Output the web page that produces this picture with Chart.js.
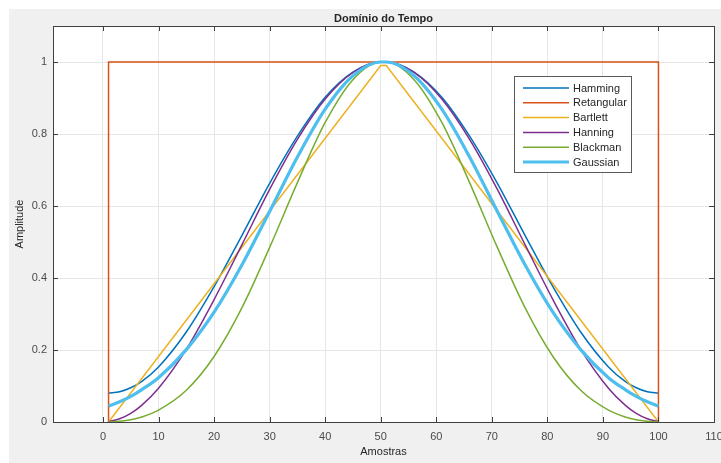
<!DOCTYPE html>
<html>
<head>
<meta charset="utf-8">
<title>Domínio do Tempo</title>
<script src="https://cdn.jsdelivr.net/npm/chart.js@4/dist/chart.umd.min.js"></script>
<style>
  html, body { margin: 0; padding: 0; background: #ffffff; }
  canvas { display: block; }
</style>
</head>
<body>
<canvas id="windowChart" width="721" height="463"></canvas>
<script>
// sample positions (1..100) used for the smooth windows
const samples = [1, 3, 5, 7, 10, 15, 20, 25, 30, 35, 40, 45, 50,
                 51, 56, 61, 66, 71, 76, 81, 86, 91, 94, 96, 98, 100];

const hamming  = [0.080, 0.084, 0.095, 0.113, 0.153, 0.250, 0.376, 0.518, 0.663, 0.794, 0.902, 0.972, 1.000,
                  1.000, 0.972, 0.902, 0.794, 0.663, 0.518, 0.376, 0.250, 0.153, 0.113, 0.095, 0.084, 0.080];
const hanning  = [0.001, 0.009, 0.024, 0.047, 0.094, 0.202, 0.340, 0.492, 0.646, 0.785, 0.897, 0.971, 1.000,
                  1.000, 0.971, 0.897, 0.785, 0.646, 0.492, 0.340, 0.202, 0.094, 0.047, 0.024, 0.009, 0.001];
const blackman = [0.000, 0.002, 0.006, 0.014, 0.033, 0.088, 0.182, 0.317, 0.485, 0.665, 0.832, 0.951, 1.000,
                  1.000, 0.951, 0.832, 0.665, 0.485, 0.317, 0.182, 0.088, 0.033, 0.014, 0.006, 0.002, 0.000];
const gaussian = [0.044, 0.056, 0.071, 0.090, 0.123, 0.201, 0.305, 0.436, 0.585, 0.736, 0.869, 0.962, 1.000,
                  1.000, 0.962, 0.869, 0.736, 0.585, 0.436, 0.305, 0.201, 0.123, 0.090, 0.071, 0.056, 0.044];

// rectangular and triangular windows are straight segments
const rectX = [1, 1, 100, 100];
const rectY = [0, 1, 1, 0];
const bartX = [1, 50, 51, 100];
const bartY = [0, 0.99, 0.99, 0];

const seriesNames = ['Hamming', 'Retangular', 'Bartlett', 'Hanning', 'Blackman', 'Gaussian'];
const seriesColors = ['#0072BD', '#D95319', '#EDB120', '#7E2F8E', '#77AC30', '#4DBEEE'];

const xTicks = [0, 10, 20, 30, 40, 50, 60, 70, 80, 90, 100, 110];
const yTicks = [0, 0.2, 0.4, 0.6, 0.8, 1];

const FONT = "'Liberation Sans', Arial, Helvetica, sans-serif";
const AXIS_COLOR = '#404040';
const TEXT_COLOR = '#262626';

const pts = (xs, ys) => xs.map((x, i) => ({ x: x, y: ys[i] }));

function series(idx, xs, ys, smooth, width) {
  return {
    label: seriesNames[idx],
    data: pts(xs, ys),
    borderColor: seriesColors[idx],
    backgroundColor: seriesColors[idx],
    borderWidth: width || 1.5,
    tension: smooth ? 0.4 : 0,
    cubicInterpolationMode: smooth ? 'monotone' : 'default',
    pointRadius: 0,
    fill: false,
    order: 5 - idx // later series painted on top
  };
}

// gray figure background + white axes area
const figureBackground = {
  id: 'figureBackground',
  beforeDraw(chart) {
    const { ctx, chartArea: a } = chart;
    ctx.save();
    ctx.fillStyle = '#f0f0f0';
    ctx.fillRect(9, 9, chart.width - 9, chart.height - 9);
    ctx.fillStyle = '#ffffff';
    ctx.fillRect(a.left, a.top, a.right - a.left, a.bottom - a.top);
    ctx.restore();
  }
};

// box around the axes with inward tick marks on all four sides
const axesBox = {
  id: 'axesBox',
  afterDraw(chart) {
    const { ctx, chartArea: a, scales } = chart;
    const len = 5;
    ctx.save();
    ctx.strokeStyle = AXIS_COLOR;
    ctx.lineWidth = 1;
    ctx.beginPath();
    xTicks.forEach(v => {
      const px = Math.round(scales.x.getPixelForValue(v)) + 0.5;
      ctx.moveTo(px, a.bottom); ctx.lineTo(px, a.bottom - len);
      ctx.moveTo(px, a.top); ctx.lineTo(px, a.top + len);
    });
    yTicks.forEach(v => {
      const py = Math.round(scales.y.getPixelForValue(v)) + 0.5;
      ctx.moveTo(a.left, py); ctx.lineTo(a.left + len, py);
      ctx.moveTo(a.right, py); ctx.lineTo(a.right - len, py);
    });
    ctx.stroke();
    ctx.strokeRect(Math.round(a.left) + 0.5, Math.round(a.top) + 0.5,
      Math.round(a.right - a.left), Math.round(a.bottom - a.top));
    ctx.restore();
  }
};

// legend box inside the axes, upper right
const insideLegend = {
  id: 'insideLegend',
  afterDraw(chart) {
    const { ctx } = chart;
    const box = { x: 514, y: 76, w: 117, h: 96 };
    const rowH = 14.8;
    ctx.save();
    ctx.fillStyle = '#ffffff';
    ctx.fillRect(box.x, box.y, box.w, box.h);
    ctx.strokeStyle = '#5a5a5a';
    ctx.lineWidth = 1;
    ctx.strokeRect(box.x + 0.5, box.y + 0.5, box.w, box.h);
    ctx.font = '11px ' + FONT;
    ctx.textBaseline = 'middle';
    ctx.textAlign = 'left';
    chart.data.datasets.forEach((ds, i) => {
      const y = box.y + 12 + i * rowH;
      ctx.strokeStyle = ds.borderColor;
      ctx.lineWidth = ds.borderWidth;
      ctx.beginPath();
      ctx.moveTo(box.x + 9, y);
      ctx.lineTo(box.x + 55, y);
      ctx.stroke();
      ctx.fillStyle = TEXT_COLOR;
      ctx.fillText(ds.label, box.x + 59, y + 0.5);
    });
    ctx.restore();
  }
};

const ctx = document.getElementById('windowChart').getContext('2d');

new Chart(ctx, {
  type: 'line',
  data: {
    datasets: [
      series(0, samples, hamming, true),
      series(1, rectX, rectY, false),
      series(2, bartX, bartY, false),
      series(3, samples, hanning, true),
      series(4, samples, blackman, true),
      series(5, samples, gaussian, true, 3.2)
    ]
  },
  options: {
    responsive: false,
    animation: false,
    layout: { padding: { left: 0, right: 7, top: 0, bottom: 0 } },
    plugins: {
      legend: { display: false },
      tooltip: { enabled: false },
      title: {
        display: true,
        text: 'Domínio do Tempo',
        fullSize: false,
        color: TEXT_COLOR,
        font: { family: FONT, size: 11, weight: 'bold' },
        padding: { top: 12.4, bottom: 0.4 }
      }
    },
    scales: {
      x: {
        type: 'linear',
        min: -9,
        max: 110,
        afterBuildTicks: (s) => { s.ticks = xTicks.map(v => ({ value: v })); },
        afterFit: (s) => { s.height = 41; s.paddingLeft = 0; s.paddingRight = 0; },
        grid: { color: '#e6e6e6', drawTicks: false },
        border: { display: true, color: AXIS_COLOR },
        ticks: { color: '#4a4a4a', padding: 8, maxRotation: 0, font: { family: FONT, size: 11 } },
        title: {
          display: true,
          text: 'Amostras',
          color: TEXT_COLOR,
          font: { family: FONT, size: 11 },
          padding: { top: 0, bottom: 4.4 }
        }
      },
      y: {
        type: 'linear',
        min: 0,
        max: 1.1,
        afterBuildTicks: (s) => { s.ticks = yTicks.map(v => ({ value: v })); },
        afterFit: (s) => { s.width = 53; s.paddingTop = 0; s.paddingBottom = 0; },
        grid: { color: '#e6e6e6', drawTicks: false },
        border: { display: true, color: AXIS_COLOR },
        ticks: {
          color: '#4a4a4a',
          padding: 6,
          font: { family: FONT, size: 11 },
          callback: (v) => String(Number(v.toFixed(1)))
        },
        title: {
          display: true,
          text: 'Amplitude',
          color: TEXT_COLOR,
          font: { family: FONT, size: 11 },
          padding: { top: 13.4, bottom: 0 }
        }
      }
    }
  },
  plugins: [figureBackground, axesBox, insideLegend]
});
</script>
</body>
</html>
